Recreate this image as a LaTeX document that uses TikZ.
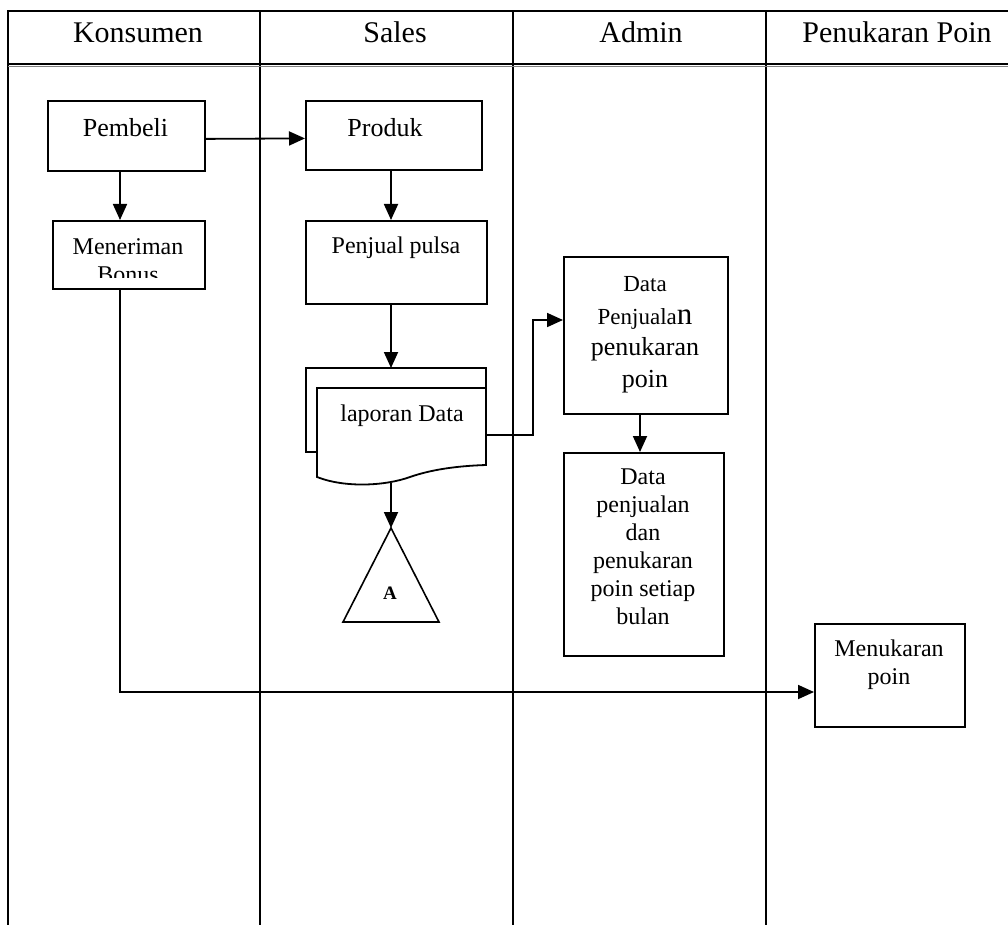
\documentclass[tikz,border=0pt]{standalone}
\usepackage{fontspec}
\setmainfont{Liberation Serif}
\usetikzlibrary{arrows.meta,calc}
\begin{document}
\begin{tikzpicture}[x=1pt,y=-1pt,
  box/.style={draw,line width=1.8pt,fill=white,inner sep=0pt,anchor=north west},
  lane/.style={line width=2pt},
  arr/.style={line width=1.8pt,-{Triangle[length=16pt,width=14pt]}},
  txt/.style={inner sep=0pt,anchor=base,align=center,font=\fontsize{24}{28}\selectfont},
  bigtxt/.style={inner sep=0pt,anchor=base,align=center,font=\fontsize{26}{30}\selectfont},
  hdr/.style={inner sep=0pt,anchor=base,font=\fontsize{30}{34}\selectfont}]
\useasboundingbox (0,0) rectangle (1008,925);
% swimlane frame
\draw[lane] (8,925) -- (8,11) -- (1008,11);
\draw[lane] (260,11) -- (260,925);
\draw[lane] (513,11) -- (513,925);
\draw[lane] (766,11) -- (766,925);
\draw[line width=2pt] (8,64.5) -- (1008,64.5);
\draw[gray,line width=1.2pt] (8,66.8) -- (1008,66.8);
% headers
\node[hdr] (hK) at (138,43) {Konsumen};
\node[hdr] (hS) at (395,43) {Sales};
\node[hdr] (hA) at (641,43) {Admin};
\node[hdr] (hP) at (897,43) {Penukaran Poin};
% boxes
\node[box,minimum width=157pt,minimum height=70pt] (pembeli) at (47,100) {};
\node[box,minimum width=152pt,minimum height=68pt] (meneriman) at (52,220) {};
\node[box,minimum width=176pt,minimum height=69pt] (produk) at (305,100) {};
\node[box,minimum width=181pt,minimum height=83pt] (penjual) at (305,220) {};
\node[box,minimum width=164pt,minimum height=157pt] (dpp) at (563,256) {};
\node[box,minimum width=160pt,minimum height=203pt] (dpb) at (563,452) {};
\node[box,minimum width=150pt,minimum height=103pt] (menuk) at (814,623) {};
% document (multiple)
\draw[line width=1.8pt,fill=white] (317,452) -- (306,452) -- (306,368) -- (486,368) -- (486,388);
\draw[line width=1.8pt,fill=white] (317,388) -- (486,388) -- (486,465)
  .. controls (455,466) and (430,470) .. (410,477)
  .. controls (385,486) and (345,488) .. (317,477) -- cycle;
\coordinate (docTop) at (391,368);
\coordinate (docBot) at (391,483);
\coordinate (docR) at (486,435);
% off-page connector triangle
\draw[line width=1.6pt,fill=white] (391,528) -- (439,622) -- (343,622) -- cycle;
\coordinate (triTop) at (391,528);
% texts
\node[bigtxt] (tPembeli) at (125.5,137) {Pembeli};
\node[bigtxt] (tProduk) at (385,137) {Produk};
\node[txt] (tPenjual) at (396,254) {Penjual pulsa};
\begin{scope}
  \clip (52,220) rectangle (204,277);
  \node[txt] (tMener) at (128,282) {Meneriman\\Bonus};
\end{scope}
\node[txt] (tLap) at (402,421) {laporan Data};
\node[inner sep=0pt,anchor=base,font=\fontsize{19}{22}\selectfont\bfseries] (tA) at (390,599) {A};
\node[inner sep=0pt,anchor=base,font=\fontsize{23}{26}\selectfont] (d1) at (645,291) {Data};
\node[inner sep=0pt,anchor=base,font=\fontsize{23}{26}\selectfont] (d2) at (645,324) {Penjuala{\fontsize{31}{31}\selectfont n}};
\node[inner sep=0pt,anchor=base,font=\fontsize{26}{30}\selectfont] (d3) at (645,355) {penukaran};
\node[inner sep=0pt,anchor=base,font=\fontsize{26}{30}\selectfont] (d4) at (645,387) {poin};
\node[txt] (tDpb) at (643,624) {Data\\penjualan\\dan\\penukaran\\poin setiap\\bulan};
\node[txt] (tMenuk) at (889,684) {Menukaran\\poin};
% connectors
\draw[arr] ([yshift=-3pt]pembeli.east) -- ([yshift=-3pt]produk.west);
\draw[arr] (120,0 |- pembeli.south) -- (120,0 |- meneriman.north);
\draw[arr] (391,0 |- produk.south) -- (391,0 |- penjual.north);
\draw[arr] (391,0 |- penjual.south) -- (docTop);
\draw[arr] (docBot) -- (triTop);
\draw[arr] (docR) -- ++(47,0) |- ($(dpp.north west)+(0,64)$);
\draw[arr] (640,0 |- dpp.south) -- (640,0 |- dpb.north);
\draw[arr] (120,0 |- meneriman.south) |- ($(menuk.north west)+(0,69)$);
\end{tikzpicture}
\end{document}
